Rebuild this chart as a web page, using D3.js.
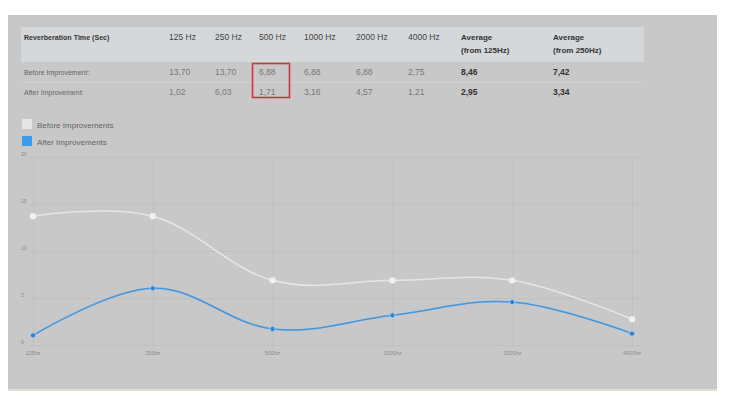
<!DOCTYPE html>
<html><head><meta charset="utf-8">
<script src="https://cdn.jsdelivr.net/npm/d3@7"></script>
<style>body{margin:0;background:#fff;}svg{display:block;font-family:"Liberation Sans",Arial,sans-serif;}</style>
</head><body>
<svg id="c" width="730" height="399"></svg>
<script>
const categories = ["125hz","250hz","500hz","1000hz","2000hz","4000hz"];
const tableHeaders = ["125 Hz","250 Hz","500 Hz","1000 Hz","2000 Hz","4000 Hz"];
const beforeValues = [13.70,13.70,6.88,6.88,6.88,2.75];
const afterValues = [1.02,6.03,1.71,3.16,4.57,1.21];
const averageLabels = ["Average (from 125Hz)","Average (from 250Hz)"];
const beforeAverages = ["8,46","7,42"];
const afterAverages = ["2,95","3,34"];
const rowLabels = ["Before Improvement:","After Improvement:"];
const seriesNames = ["Before Improvements","After Improvements"];
const yTicks = [0,5,10,15,20];

const svg = d3.select("#c");
const fmt = v => v.toFixed(2).replace(".", ",");

// panel
svg.append("rect").attr("x",8).attr("y",15).attr("width",709).attr("height",375).attr("fill","#c8c8c8");
svg.append("line").attr("x1",8).attr("x2",717).attr("y1",390).attr("y2",390).attr("stroke","#e2ddd2").attr("stroke-width",2);

// table
svg.append("rect").attr("x",21).attr("y",27).attr("width",623).attr("height",35).attr("fill","#d5d8db");
svg.append("line").attr("x1",21).attr("x2",644).attr("y1",82.5).attr("y2",82.5).attr("stroke","#d1d1d1");

const colX = [169,215,259,304,356,408];
const avgX = [461,553];
svg.append("text").attr("x",24).attr("y",40).attr("font-size",7.1).attr("font-weight","bold").attr("fill","#333").text("Reverberation Time (Sec)");
tableHeaders.forEach((h,i)=>{
  svg.append("text").attr("x",colX[i]).attr("y",40).attr("font-size",8.5).attr("fill","#444").text(h);
});
averageLabels.forEach((h,i)=>{
  const parts = [h.split(" ")[0], h.substring(h.indexOf(" ")+1)];
  svg.append("text").attr("x",avgX[i]).attr("y",40).attr("font-size",8).attr("font-weight","bold").attr("fill","#333").text(parts[0]);
  svg.append("text").attr("x",avgX[i]).attr("y",53).attr("font-size",8).attr("font-weight","bold").attr("fill","#333").text(parts[1]);
});
const rowY = [75,95];
rowLabels.forEach((r,j)=>{
  svg.append("text").attr("x",24).attr("y",rowY[j]).attr("font-size",7).attr("fill","#666").text(r);
  const vals = j===0?beforeValues:afterValues;
  vals.forEach((v,i)=>{
    svg.append("text").attr("x",colX[i]).attr("y",rowY[j]).attr("font-size",8.5).attr("fill","#777").text(fmt(v));
  });
  const av = j===0?beforeAverages:afterAverages;
  av.forEach((a,i)=>{
    svg.append("text").attr("x",avgX[i]).attr("y",rowY[j]).attr("font-size",8.5).attr("font-weight","bold").attr("fill","#333").text(a);
  });
});
svg.append("rect").attr("x",252.5).attr("y",63.5).attr("width",37).attr("height",34).attr("fill","none").attr("stroke","#c8383a").attr("stroke-width",1.6);

// legend
const legColors = ["#e6e6e6","#3d9be9"];
seriesNames.forEach((s,i)=>{
  svg.append("rect").attr("x",22).attr("y",119+i*17).attr("width",10).attr("height",10).attr("fill",legColors[i]);
  svg.append("text").attr("x",37).attr("y",127.5+i*17).attr("font-size",8).attr("fill","#666").text(s);
});

// chart
const x = d3.scalePoint().domain(categories).range([33,632]);
const y = d3.scaleLinear().domain([0,20]).range([345,157]);

const g = svg.append("g");
yTicks.forEach(t=>{
  g.append("line").attr("x1",30).attr("x2",643).attr("y1",y(t)+0.5).attr("y2",y(t)+0.5).attr("stroke","#c0c0c0").attr("stroke-width",1);
  g.append("text").attr("x",21).attr("y",y(t)-1).attr("font-size",5).attr("fill","#888").text(t);
});
categories.forEach(c=>{
  g.append("line").attr("x1",x(c)+0.5).attr("x2",x(c)+0.5).attr("y1",y(20)).attr("y2",y(0)+3).attr("stroke","#c0c0c0");
  g.append("text").attr("x",x(c)).attr("y",355).attr("text-anchor","middle").attr("font-size",5.5).attr("fill","#888").text(c);
});

const line = d3.line().x((d,i)=>x(categories[i])).y(d=>y(d)).curve(d3.curveCardinal.tension(-0.1));

g.append("path").datum(beforeValues).attr("d",line).attr("fill","none").attr("stroke","#e6e6e6").attr("stroke-width",1.5);
g.append("path").datum(afterValues).attr("d",line).attr("fill","none").attr("stroke","#a9cbe8").attr("stroke-width",3).attr("opacity",0.6);
g.append("path").datum(afterValues).attr("d",line).attr("fill","none").attr("stroke","#4b93d3").attr("stroke-width",1.5);

g.selectAll(".pb").data(beforeValues).join("circle").attr("cx",(d,i)=>x(categories[i])).attr("cy",d=>y(d)).attr("r",3.2).attr("fill","#f0f0f0");
g.selectAll(".pa").data(afterValues).join("circle").attr("cx",(d,i)=>x(categories[i])).attr("cy",d=>y(d)).attr("r",2.6).attr("fill","#2f7fd0").attr("stroke","#a9d0f0").attr("stroke-width",1);
</script>
</body></html>
